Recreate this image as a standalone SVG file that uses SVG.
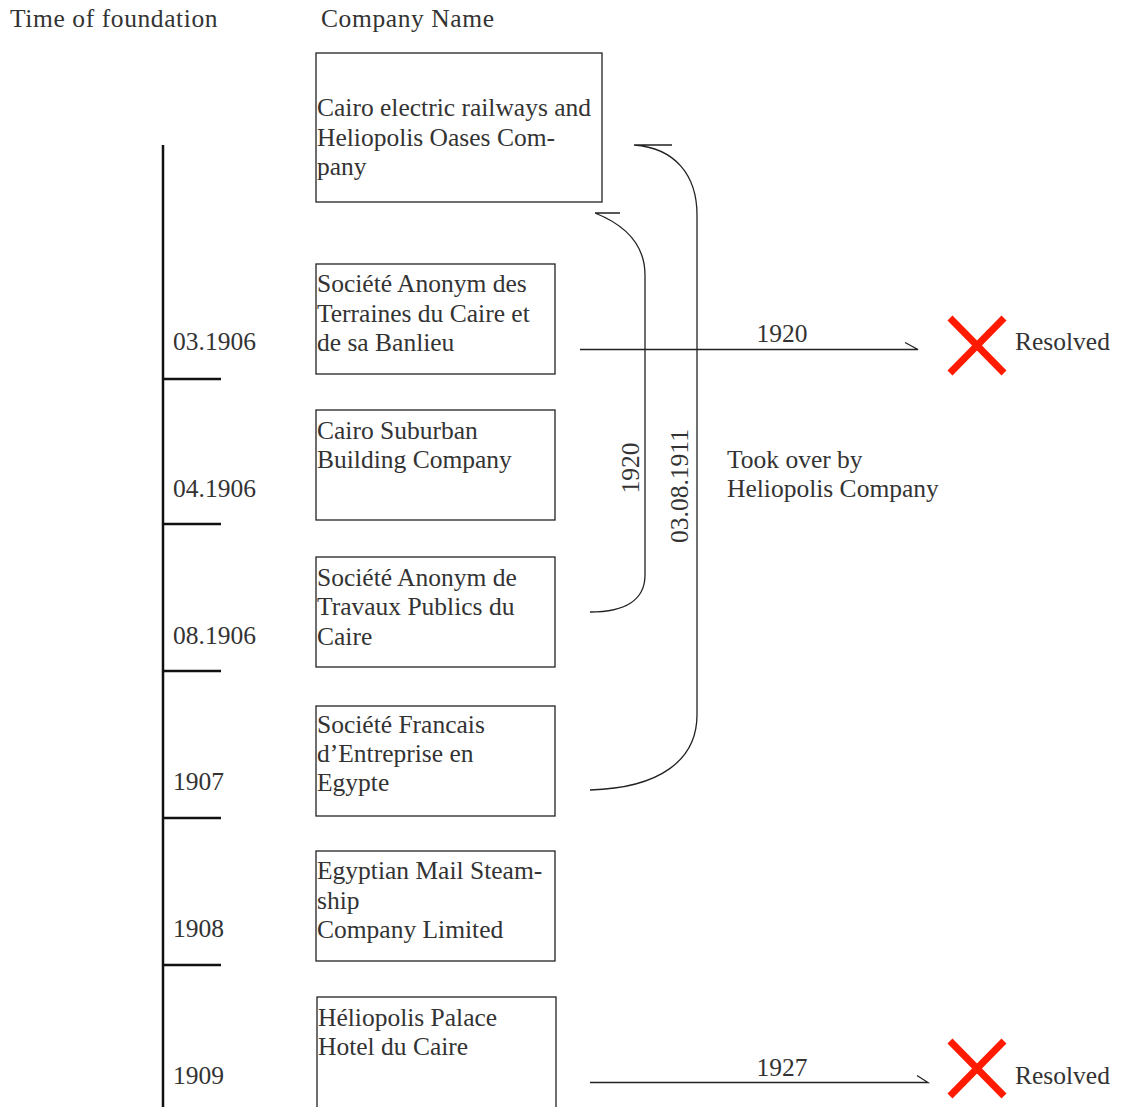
<svg xmlns="http://www.w3.org/2000/svg" width="1125" height="1107" viewBox="0 0 1125 1107">
<style>
text{font-family:"Liberation Serif","Times New Roman",serif;font-size:25.5px;fill:#333}
.hd{letter-spacing:0.6px}
.box{fill:none;stroke:#222;stroke-width:1.3}
.tl{stroke:#111;stroke-width:2.5;fill:none}
.ln{stroke:#222;stroke-width:1.3;fill:none}
.x{stroke:#ff1a00;stroke-width:7;fill:none}
</style>
<rect width="1125" height="1107" fill="#fff"/>
<text class="hd" x="10" y="27">Time of foundation</text>
<text class="hd" x="321" y="27">Company Name</text>
<g id="timeline">
<line class="tl" x1="163" y1="145" x2="163" y2="1107"/>
<line class="tl" x1="163" y1="379" x2="221" y2="379"/>
<line class="tl" x1="163" y1="524" x2="221" y2="524"/>
<line class="tl" x1="163" y1="671" x2="221" y2="671"/>
<line class="tl" x1="163" y1="818" x2="221" y2="818"/>
<line class="tl" x1="163" y1="965" x2="221" y2="965"/>
<text x="173" y="350">03.1906</text>
<text x="173" y="497">04.1906</text>
<text x="173" y="644">08.1906</text>
<text x="173" y="790">1907</text>
<text x="173" y="937">1908</text>
<text x="173" y="1084">1909</text>
</g>
<g id="n1"><rect class="box" x="316" y="53" width="286" height="149"/>
<text x="317" y="116">Cairo electric railways and</text><text x="317" y="146">Heliopolis Oases Com-</text><text x="317" y="175">pany</text></g>
<g id="n2"><rect class="box" x="316" y="264" width="239" height="110"/>
<text x="317" y="292">Société Anonym des</text><text x="317" y="322">Terraines du Caire et</text><text x="317" y="351">de sa Banlieu</text></g>
<g id="n3"><rect class="box" x="316" y="410" width="239" height="110"/>
<text x="317" y="439">Cairo Suburban</text><text x="317" y="468">Building Company</text></g>
<g id="n4"><rect class="box" x="316" y="557" width="239" height="110"/>
<text x="317" y="586">Société Anonym de</text><text x="317" y="615">Travaux Publics du</text><text x="317" y="645">Caire</text></g>
<g id="n5"><rect class="box" x="316" y="706" width="239" height="110"/>
<text x="317" y="733">Société Francais</text><text x="317" y="762">d’Entreprise en</text><text x="317" y="791">Egypte</text></g>
<g id="n6"><rect class="box" x="316" y="851" width="239" height="110"/>
<text x="317" y="879">Egyptian Mail Steam-</text><text x="317" y="909">ship</text><text x="317" y="938">Company Limited</text></g>
<g id="n7"><rect class="box" x="317" y="997" width="239" height="130"/>
<text x="318" y="1026">Héliopolis Palace</text><text x="318" y="1055">Hotel du Caire</text></g>
<g id="connectors">
<path class="ln" d="M590,612 C625,612 645,600 645,575 L645,275 C645,245 625,225 595,213 M595,213 H620"/>
<path class="ln" d="M590,790 C660,788 697,760 697,715 L697,215 C697,175 675,148 634,145 M634,145 H672"/>
<text transform="translate(639,468) rotate(-90)" text-anchor="middle">1920</text>
<text transform="translate(688,486) rotate(-90)" text-anchor="middle">03.08.1911</text>
<path class="ln" d="M580,349.5 H918 L905,342.5"/>
<text x="782" y="342" text-anchor="middle">1920</text>
<path class="ln" d="M590,1082.5 H928 L917,1075.5"/>
<text x="782" y="1076" text-anchor="middle">1927</text>
</g>
<g id="resolved1"><path class="x" d="M950,318 L1004,373 M1004,318 L950,373"/><text x="1015" y="350">Resolved</text></g>
<g id="resolved2"><path class="x" d="M950,1041 L1004,1096 M1004,1041 L950,1096"/><text x="1015" y="1084">Resolved</text></g>
<g id="note"><text x="727" y="468">Took over by</text><text x="727" y="497">Heliopolis Company</text></g>
</svg>
